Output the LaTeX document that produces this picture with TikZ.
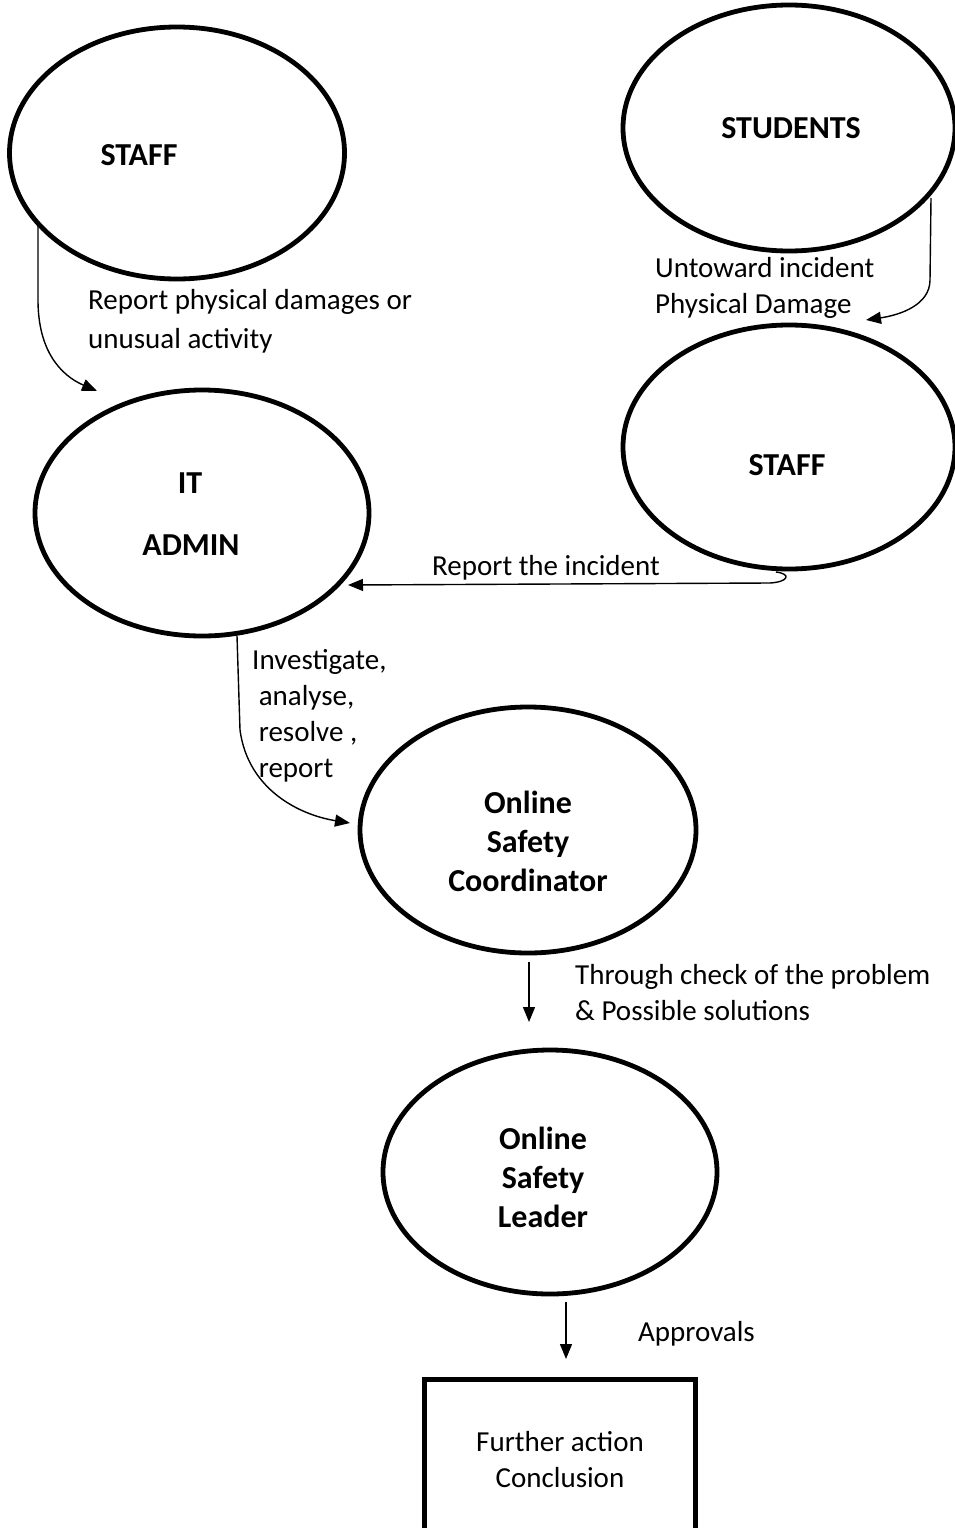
\documentclass[tikz,border=0pt]{standalone}
\usepackage{fontspec}
\setmainfont{Carlito}
\usetikzlibrary{arrows.meta,shapes.geometric}
\begin{document}
\begin{tikzpicture}[x=1pt,y=-1pt,
  bubble/.style={draw,ellipse,line width=4.8pt,inner sep=0pt},
  btxt/.style={font=\fontsize{32}{39}\selectfont\bfseries,inner sep=0pt,align=center},
  lbl/.style={font=\fontsize{29}{36}\selectfont,inner sep=0pt,align=left,anchor=west},
  conn/.style={line width=1.4pt,-{Triangle[length=15pt,width=12pt]}}]
\useasboundingbox (0,0) rectangle (955,1528);
% ellipses
\node[bubble,minimum width=335pt,minimum height=252pt] (staffA) at (177,153) {};
\node[bubble,minimum width=332pt,minimum height=246pt] (students) at (789,128) {};
\node[bubble,minimum width=332pt,minimum height=244pt] (staffB) at (789,447) {};
\node[bubble,minimum width=334pt,minimum height=246pt] (itadmin) at (202,513) {};
\node[bubble,minimum width=336pt,minimum height=246pt] (coord) at (528,830) {};
\node[bubble,minimum width=334pt,minimum height=244pt] (leader) at (550,1172) {};
\draw[line width=5pt] (424,1540) -- (424,1379) -- (695,1379) -- (695,1540);
\coordinate (boxtop) at (566,1359);
% bold texts
\node[btxt] (tstaffA) at (139,155) {STAFF};
\node[btxt] (tstudents) at (791,128) {STUDENTS};
\node[btxt] (tstaffB) at (787,465) {STAFF};
\node[btxt] (tit) at (190,483) {IT};
\node[btxt] (tadmin) at (191,545) {ADMIN};
\node[btxt] (tcoord) at (528,841) {Online\\Safety\\Coordinator};
\node[btxt] (tleader) at (543,1177) {Online\\Safety\\Leader};
\node[font=\fontsize{29}{36}\selectfont,inner sep=0pt,align=center] (tbox) at (560,1460) {Further action\\Conclusion};
% labels
\node[lbl,font=\fontsize{29}{39}\selectfont] (l1) at (88,321) {Report physical damages or\\unusual activity};
\node[lbl] (l2) at (655,288) {Untoward incident\\Physical Damage};
\node[lbl] (l3) at (432,568) {Report the incident};
\node[lbl] (l4) at (252,716) {Investigate,\\\ analyse,\\\ resolve ,\\\ report};
\node[lbl] (l5) at (575,993) {Through check of the problem\\\& Possible solutions};
\node[lbl] (l6) at (638,1334) {Approvals};
% connector ends
\coordinate (s1) at (38,224);
\coordinate (e1) at (97,391);
\coordinate (s2) at (931,198);
\coordinate (e2) at (866,320);
\coordinate (s3) at (776,572);
\coordinate (e3) at (348,585);
\coordinate (s4) at (237,636);
\coordinate (e4) at (350,823);
\coordinate (s5) at (529,962);
\coordinate (e5) at (529,1022);
\coordinate (s6) at (566,1302);
% connectors
\draw[conn] (s1) -- (38,300) .. controls (38,350) and (60,375) .. (e1);
\draw[conn] (s2) -- (930,280) .. controls (930,305) and (900,315) .. (e2);
\draw[conn] (s3) .. controls (792,574) and (788,582) .. (770,583) -- (e3);
\draw[conn] (s4) -- (240,730) .. controls (248,790) and (300,815) .. (e4);
\draw[conn] (s5) -- (e5);
\draw[conn] (s6) -- (boxtop);
\end{tikzpicture}
\end{document}
